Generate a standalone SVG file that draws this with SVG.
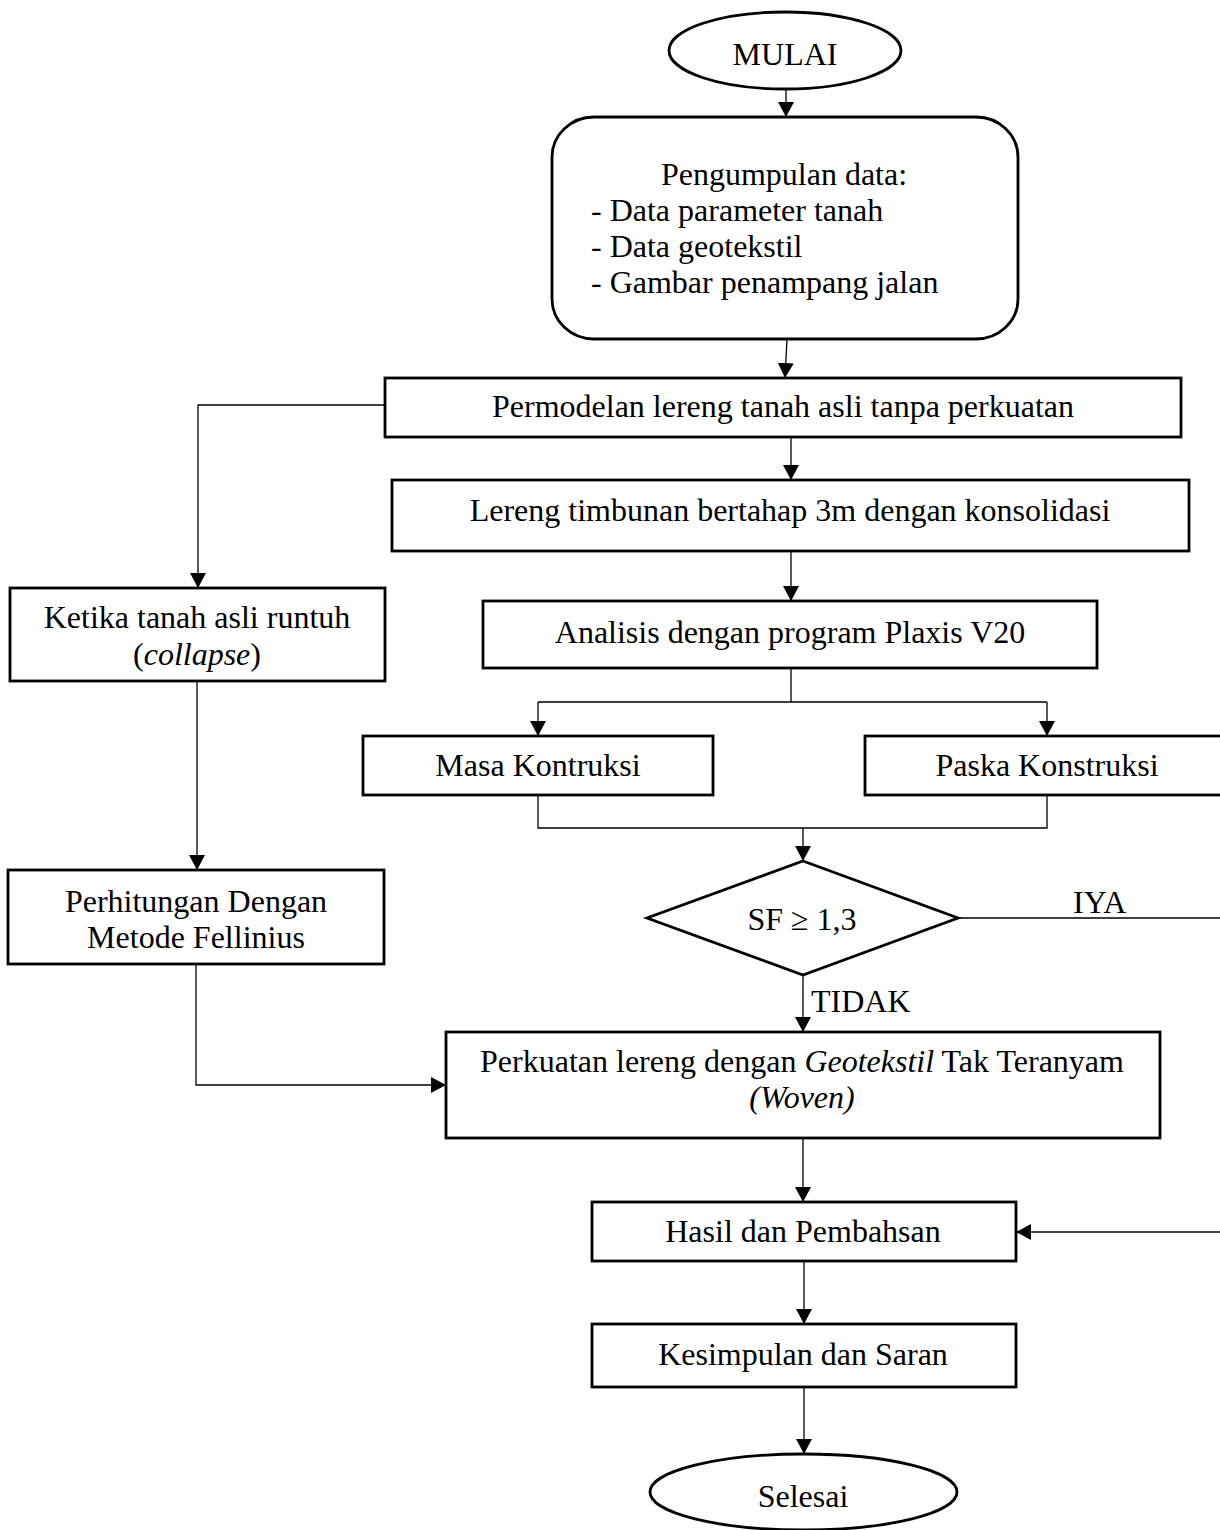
<svg xmlns="http://www.w3.org/2000/svg" width="1220" height="1530" viewBox="0 0 1220 1530">
<style>
.box{fill:#fff;stroke:#000;stroke-width:2.8}
.ln{fill:none;stroke:#000;stroke-width:1.3}
.t{font-family:"Liberation Serif","Times New Roman",serif;font-size:32px;fill:#000}
.c{text-anchor:middle}
.i{font-style:italic}
</style>
<defs>
<marker id="ah" viewBox="0 0 15 16" refX="15" refY="8" markerWidth="15" markerHeight="16" markerUnits="userSpaceOnUse" orient="auto">
<path d="M0,0 L15,8 L0,16 z" fill="#000"/>
</marker>
</defs>
<rect width="1220" height="1530" fill="#fff"/>
<g id="connectors">
<path class="ln" d="M786,89 V117" marker-end="url(#ah)"/>
<path class="ln" d="M787,339 L785,378" marker-end="url(#ah)"/>
<path class="ln" d="M385,405 H198 V588" marker-end="url(#ah)"/>
<path class="ln" d="M791,437 V480" marker-end="url(#ah)"/>
<path class="ln" d="M791,551 V601" marker-end="url(#ah)"/>
<path class="ln" d="M791,668 V702 M538,702 H1047"/>
<path class="ln" d="M538,702 V736" marker-end="url(#ah)"/>
<path class="ln" d="M1047,702 V736" marker-end="url(#ah)"/>
<path class="ln" d="M538,795 V828 H1047 V795"/>
<path class="ln" d="M803,828 V861" marker-end="url(#ah)"/>
<path class="ln" d="M958,918 H1222"/>
<path class="ln" d="M1222,1232 H1016" marker-end="url(#ah)"/>
<path class="ln" d="M803,975 V1032" marker-end="url(#ah)"/>
<path class="ln" d="M197,681 V870" marker-end="url(#ah)"/>
<path class="ln" d="M196,964 V1085 H446" marker-end="url(#ah)"/>
<path class="ln" d="M803,1138 V1202" marker-end="url(#ah)"/>
<path class="ln" d="M804,1261 V1324" marker-end="url(#ah)"/>
<path class="ln" d="M804,1387 V1454" marker-end="url(#ah)"/>
<text class="t" x="1073" y="913">IYA</text>
<text class="t" x="811" y="1012">TIDAK</text>
</g>
<g id="mulai">
<ellipse class="box" cx="785" cy="50.5" rx="116" ry="38.5"/>
<text class="t c" x="785" y="65">MULAI</text>
</g>
<g id="pengumpulan">
<rect class="box" x="552" y="117" width="466" height="222" rx="42" ry="40"/>
<text class="t c" x="784" y="185">Pengumpulan data:</text>
<text class="t" x="591" y="221">- Data parameter tanah</text>
<text class="t" x="591" y="257">- Data geotekstil</text>
<text class="t" x="591" y="293">- Gambar penampang jalan</text>
</g>
<g id="permodelan">
<rect class="box" x="385" y="378" width="796" height="59"/>
<text class="t c" x="783" y="417">Permodelan lereng tanah asli tanpa perkuatan</text>
</g>
<g id="lereng">
<rect class="box" x="392" y="480" width="797" height="71"/>
<text class="t c" x="790" y="521">Lereng timbunan bertahap 3m dengan konsolidasi</text>
</g>
<g id="analisis">
<rect class="box" x="483" y="601" width="614" height="67"/>
<text class="t c" x="790" y="643">Analisis dengan program Plaxis V20</text>
</g>
<g id="masa">
<rect class="box" x="363" y="736" width="350" height="59"/>
<text class="t c" x="538" y="776">Masa Kontruksi</text>
</g>
<g id="paska">
<rect class="box" x="865" y="736" width="364" height="59"/>
<text class="t c" x="1047" y="776">Paska Konstruksi</text>
</g>
<g id="sf">
<polygon class="box" points="803,861 958,918 803,975 647,918"/>
<text class="t c" x="802" y="930">SF ≥ 1,3</text>
</g>
<g id="ketika">
<rect class="box" x="10" y="588" width="375" height="93"/>
<text class="t c" x="197" y="628">Ketika tanah asli runtuh</text>
<text class="t c" x="197" y="665">(<tspan class="i">collapse</tspan>)</text>
</g>
<g id="perhitungan">
<rect class="box" x="8" y="870" width="376" height="94"/>
<text class="t c" x="196" y="912">Perhitungan Dengan</text>
<text class="t c" x="196" y="948">Metode Fellinius</text>
</g>
<g id="perkuatan">
<rect class="box" x="446" y="1032" width="714" height="106"/>
<text class="t c" x="802" y="1072">Perkuatan lereng dengan <tspan class="i">Geotekstil</tspan> Tak Teranyam</text>
<text class="t c i" x="802" y="1108">(Woven)</text>
</g>
<g id="hasil">
<rect class="box" x="592" y="1202" width="424" height="59"/>
<text class="t c" x="803" y="1242">Hasil dan Pembahsan</text>
</g>
<g id="kesimpulan">
<rect class="box" x="592" y="1324" width="424" height="63"/>
<text class="t c" x="803" y="1365">Kesimpulan dan Saran</text>
</g>
<g id="selesai">
<ellipse class="box" cx="803.5" cy="1492" rx="153.5" ry="38"/>
<text class="t c" x="803" y="1507">Selesai</text>
</g>
</svg>
